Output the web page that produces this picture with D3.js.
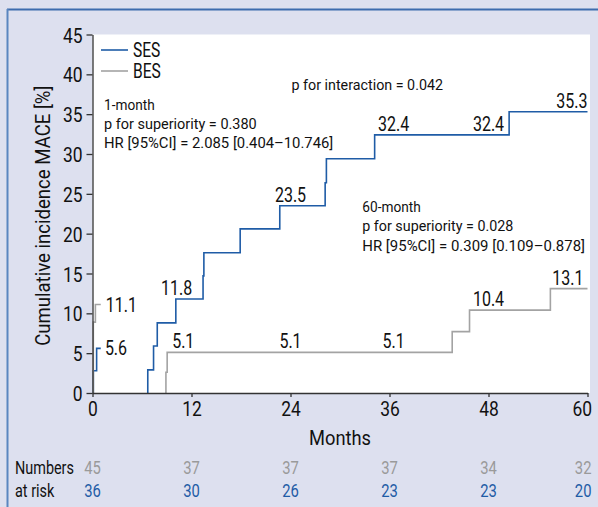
<!DOCTYPE html>
<html>
<head>
<meta charset="utf-8">
<script src="https://cdn.jsdelivr.net/npm/d3@7/dist/d3.min.js"></script>
<style>
  html, body { margin: 0; padding: 0; background: #dde0ef; }
  svg { display: block; }
  text { font-family: "Liberation Sans Narrow", "Arial Narrow", "Roboto", sans-serif; }
</style>
</head>
<body>
<svg id="chart" width="598" height="507"></svg>
<script>
// ---- data ----
const xTicks = [0, 12, 24, 36, 48, 60];
const yTicks = [0, 5, 10, 15, 20, 25, 30, 35, 40, 45];

// landmark 0-1 month
const ses1 = [[0, 0], [0.1, 2.8], [0.5, 5.6], [1, 5.6]];
const bes1 = [[0, 0], [0.1, 8.9], [0.35, 11.1], [1, 11.1]];
// landmark 1-60 months
const ses2 = [[6.7, 0], [6.7, 2.9], [7.4, 5.9], [7.85, 8.8], [10.1, 11.8], [13.4, 14.7], [13.5, 17.6],
              [17.9, 20.6], [22.7, 23.5], [28.2, 26.4], [28.35, 29.4], [34.2, 32.4], [50.5, 35.3], [60, 35.3]];
const bes2 = [[8.9, 0], [8.9, 2.6], [9.05, 5.1], [43.6, 7.7], [45.7, 10.4], [55.5, 13.1], [60, 13.1]];

// value labels: [month, value, text, anchor, placement]
const sesLabels = [[1.5, 5.6, "5.6", "start", "side"], [10.2, 11.8, "11.8", "middle", "above"],
                   [24, 23.5, "23.5", "middle", "above"], [36.5, 32.4, "32.4", "middle", "above"],
                   [48, 32.4, "32.4", "middle", "above"], [60, 35.3, "35.3", "end", "above"]];
const besLabels = [[1.6, 11.1, "11.1", "start", "side"], [11, 5.1, "5.1", "middle", "above"],
                   [24, 5.1, "5.1", "middle", "above"], [36.5, 5.1, "5.1", "middle", "above"],
                   [48, 10.4, "10.4", "middle", "above"], [59.5, 13.1, "13.1", "end", "above"]];

const riskBES = [45, 37, 37, 37, 34, 32];
const riskSES = [36, 30, 26, 23, 23, 20];

const interactionNote = "p for interaction = 0.042";
const note1 = ["1-month", "p for superiority = 0.380", "HR [95%CI] = 2.085 [0.404\u201310.746]"];
const note2 = ["60-month", "p for superiority = 0.028", "HR [95%CI] = 0.309 [0.109\u20130.878]"];

const sesColor = "#1f5ca6";
const besColor = "#a3a3a3";

// ---- drawing ----
const svg = d3.select("#chart");
const x = d3.scaleLinear().domain([0, 60]).range([92.5, 587.5]);
const y = d3.scaleLinear().domain([0, 45]).range([393, 34.5]);

// condensed text helper (horizontal scale)
function txt(parent, tx, ty, str, size, sx, anchor, fill) {
  return parent.append("text")
    .attr("transform", `translate(${tx},${ty}) scale(${sx},1)`)
    .attr("text-anchor", anchor || "start")
    .attr("font-size", size).attr("fill", fill || "#111").text(str);
}
// fixed-width text helper
function txtW(parent, tx, ty, str, size, w) {
  return parent.append("text").attr("x", tx).attr("y", ty)
    .attr("textLength", w).attr("lengthAdjust", "spacingAndGlyphs")
    .attr("font-size", size).attr("fill", "#111").text(str);
}

// frame
svg.append("rect").attr("x", 0).attr("y", 0).attr("width", 598).attr("height", 507).attr("fill", "#dde0ef");
svg.append("line").attr("x1", 7).attr("x2", 598).attr("y1", 9.5).attr("y2", 9.5)
  .attr("stroke", "#3d6cae").attr("stroke-width", 2);
svg.append("line").attr("x1", 7.5).attr("x2", 7.5).attr("y1", 9).attr("y2", 507)
  .attr("stroke", "#5a86c0").attr("stroke-width", 2);

// plot area
svg.append("rect").attr("x", x(0)).attr("y", y(45))
  .attr("width", x(60) - x(0) + 2.5).attr("height", y(0) - y(45)).attr("fill", "#ffffff");

const line = d3.line().x(d => x(d[0])).y(d => y(d[1])).curve(d3.curveStepAfter);
[[ses1, sesColor], [bes1, besColor], [ses2, sesColor], [bes2, besColor]].forEach(([data, c]) => {
  svg.append("path").datum(data).attr("d", line).attr("fill", "none")
    .attr("stroke", c).attr("stroke-width", 1.6);
});

// axes
const tickSx = 0.83;
const yAxis = svg.append("g").attr("transform", `translate(${x(0)},0)`)
  .call(d3.axisLeft(y).tickValues(yTicks).tickSize(6).tickPadding(4).tickSizeOuter(0));
const xAxis = svg.append("g").attr("transform", `translate(0,${y(0)})`)
  .call(d3.axisBottom(x).tickValues(xTicks).tickSize(4).tickPadding(3).tickSizeOuter(0));
[yAxis, xAxis].forEach(g => {
  g.select(".domain").attr("stroke", "#333").attr("stroke-width", 1.3);
  g.selectAll(".tick line").attr("stroke", "#333").attr("stroke-width", 1.3);
  g.selectAll("text").attr("font-size", 21).attr("fill", "#111")
    .style("font-family", '"Liberation Sans Narrow", "Arial Narrow", Roboto, sans-serif');
});
yAxis.selectAll("text").attr("dy", "0.36em").attr("x", -10 / tickSx)
  .attr("transform", `scale(${tickSx},1)`);
xAxis.selectAll("text").attr("dy", "0.75em").attr("transform", `scale(${tickSx},1)`);
// keep the last tick label inside the frame
xAxis.selectAll(".tick").filter(d => d === 60).select("text")
  .attr("text-anchor", "end").attr("x", 4 / tickSx);

// value labels
function drawLabels(arr) {
  arr.forEach(([m, v, t, a, p]) => {
    const ty = p === "side" ? y(v) + 7 : y(v) - 4;
    txt(svg, x(m), ty, t, 20, 0.8, a);
  });
}
drawLabels(sesLabels);
drawLabels(besLabels);

// legend
const legend = [["SES", sesColor, 50], ["BES", besColor, 71]];
legend.forEach(([name, c, ly]) => {
  svg.append("line").attr("x1", 101).attr("x2", 128).attr("y1", ly).attr("y2", ly)
    .attr("stroke", c).attr("stroke-width", 1.6);
  txt(svg, 133, ly + 7, name, 19.5, 0.8);
});

// annotations (widths matched to the reference)
const noteSize = 15;
txtW(svg, 291.5, 90, interactionNote, noteSize, 151.5);
const w1 = [50.7, 152.7, 229.3];
note1.forEach((t, i) => txtW(svg, 104, 110 + i * 19.2, t, noteSize, w1[i]));
const w2 = [58.5, 151, 222.7];
note2.forEach((t, i) => txtW(svg, 362.3, 211.5 + i * 19.5, t, noteSize, w2[i]));

// axis titles
svg.append("text")
  .attr("transform", `translate(50,${(y(0) + y(45)) / 2 + 2}) rotate(-90) scale(0.885,1)`)
  .attr("text-anchor", "middle").attr("font-size", 21).attr("fill", "#111")
  .text("Cumulative incidence MACE [%]");
txt(svg, (x(0) + x(60)) / 2, 445, "Months", 21, 0.87, "middle");

// numbers at risk
txt(svg, 15, 474, "Numbers", 18.5, 0.78);
txt(svg, 15, 497, "at risk", 18.5, 0.78);
[[riskBES, "#9a9a9a", 474], [riskSES, "#1f5ca6", 497]].forEach(([arr, c, ry]) => {
  arr.forEach((n, i) => {
    const last = i === arr.length - 1;
    txt(svg, x(xTicks[i]) + (last ? 4 : 0), ry, n, 18.5, 0.8, last ? "end" : "middle", c);
  });
});
</script>
</body>
</html>
